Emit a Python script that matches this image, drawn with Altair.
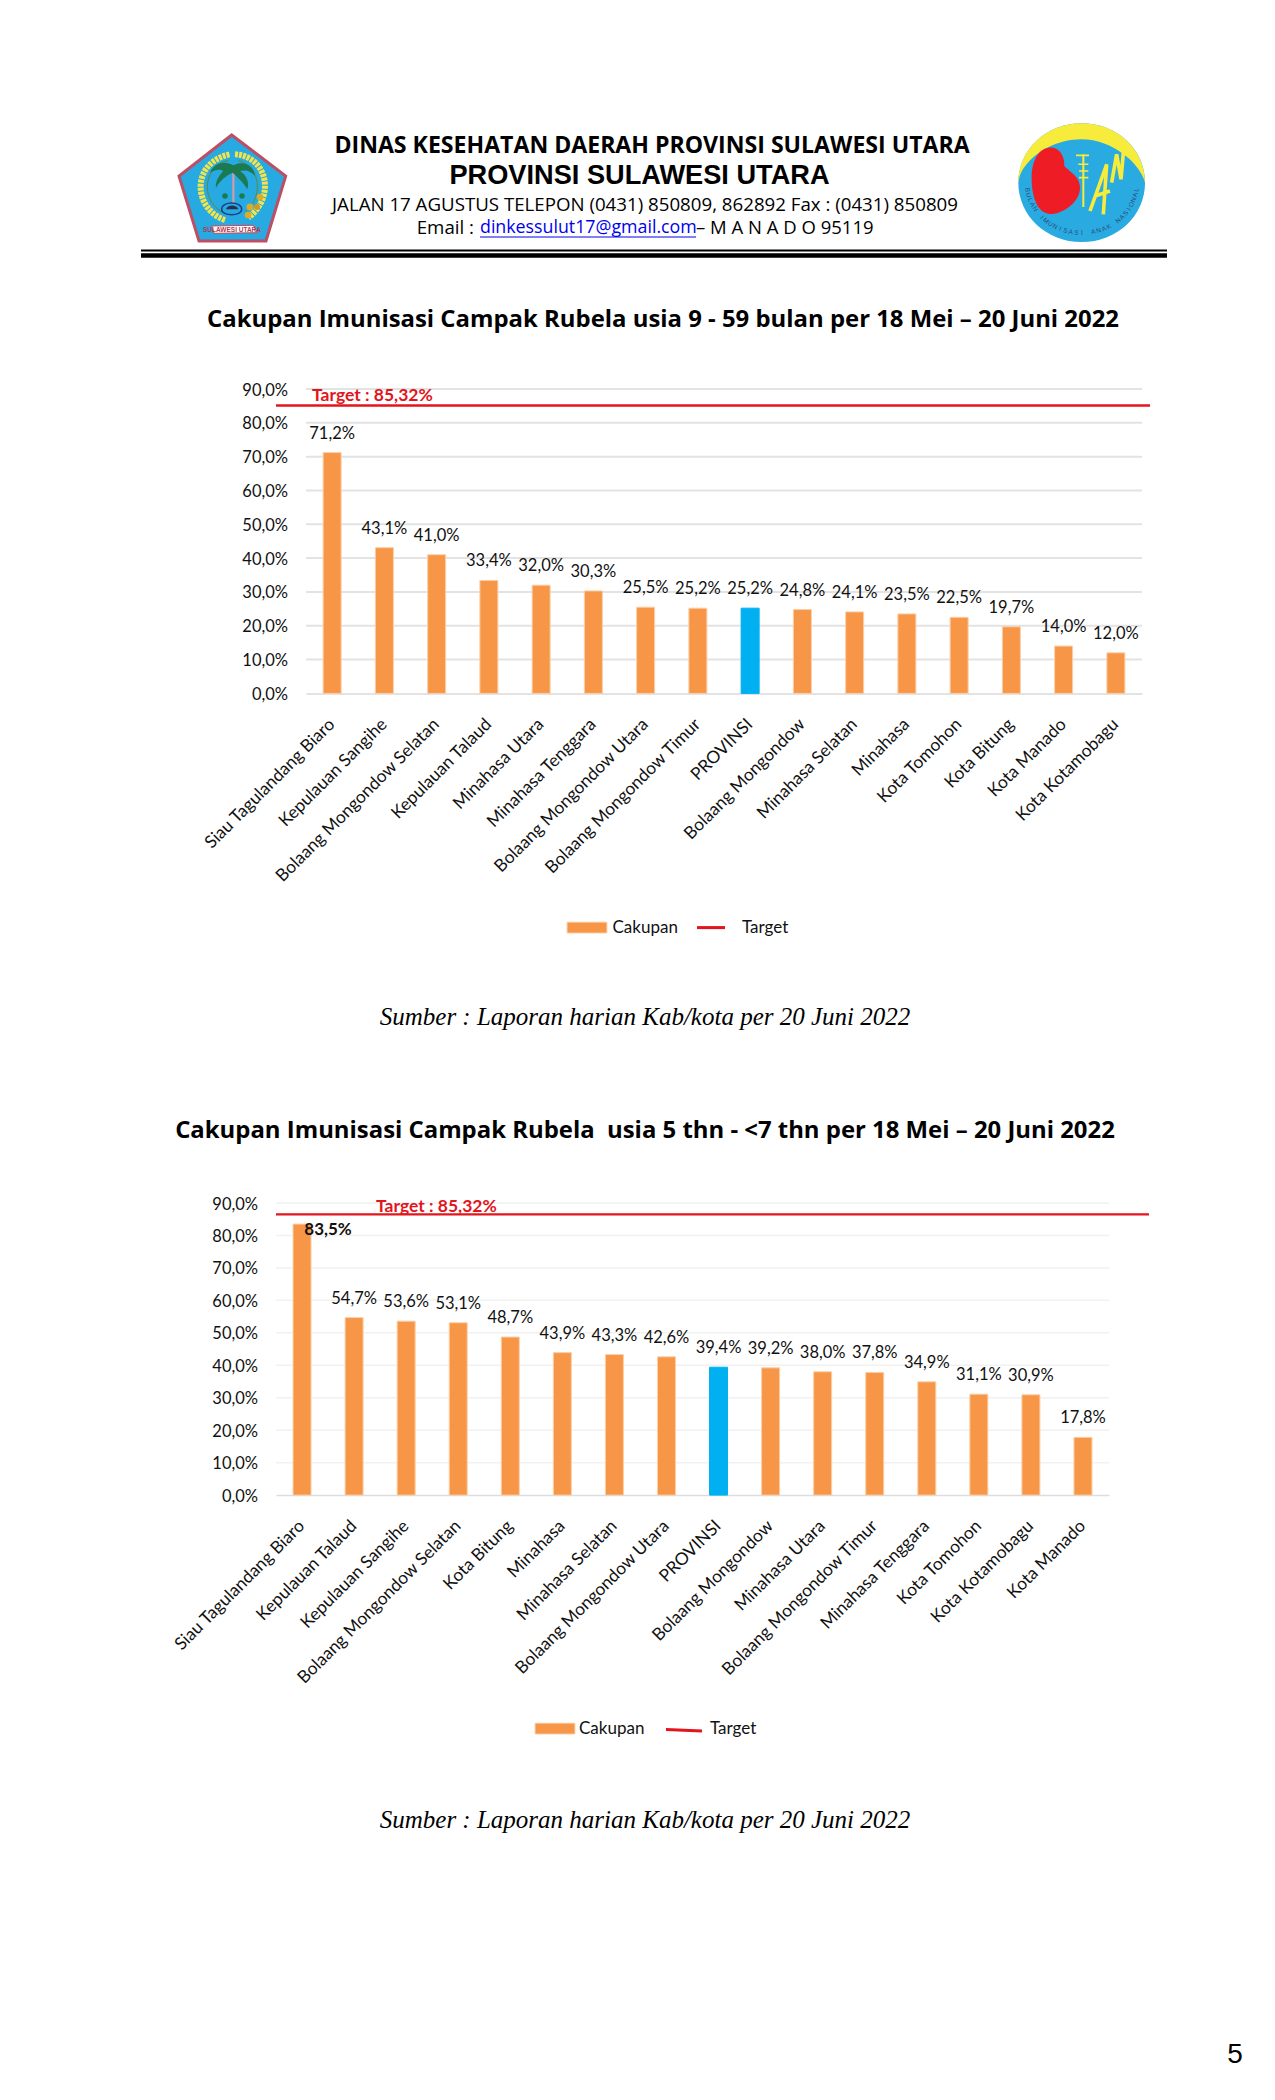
import re, math
import altair as alt
import pandas as pd

# ---------- data ----------
kab1 = ["Siau Tagulandang Biaro", "Kepulauan Sangihe", "Bolaang Mongondow Selatan", "Kepulauan Talaud",
        "Minahasa Utara", "Minahasa Tenggara", "Bolaang Mongondow Utara", "Bolaang Mongondow Timur",
        "PROVINSI", "Bolaang Mongondow", "Minahasa Selatan", "Minahasa", "Kota Tomohon", "Kota Bitung",
        "Kota Manado", "Kota Kotamobagu"]
val1 = [71.2, 43.1, 41.0, 33.4, 32.0, 30.3, 25.5, 25.2, 25.2, 24.8, 24.1, 23.5, 22.5, 19.7, 14.0, 12.0]
kab2 = ["Siau Tagulandang Biaro", "Kepulauan Talaud", "Kepulauan Sangihe", "Bolaang Mongondow Selatan",
        "Kota Bitung", "Minahasa", "Minahasa Selatan", "Bolaang Mongondow Utara", "PROVINSI",
        "Bolaang Mongondow", "Minahasa Utara", "Bolaang Mongondow Timur", "Minahasa Tenggara",
        "Kota Tomohon", "Kota Kotamobagu", "Kota Manado"]
val2 = [83.5, 54.7, 53.6, 53.1, 48.7, 43.9, 43.3, 42.6, 39.4, 39.2, 38.0, 37.8, 34.9, 31.1, 30.9, 17.8]
target1 = 85.1   # where the line sits in the picture; its label says 85,32%
target2 = 86.5   # drawn above its stated value in the reference
ticks = [0, 10, 20, 30, 40, 50, 60, 70, 80, 90]
series = ["Cakupan", "Target"]

title1 = "Cakupan Imunisasi Campak Rubela usia 9 - 59 bulan per 18 Mei – 20 Juni 2022"
title2 = "Cakupan Imunisasi Campak Rubela\u00a0 usia 5 thn - <7 thn per 18 Mei – 20 Juni 2022"
source = "Sumber : Laporan harian Kab/kota per 20 Juni 2022"
target_text = "Target : 85,32%"
head1 = "DINAS KESEHATAN DAERAH PROVINSI SULAWESI UTARA"
head2 = "PROVINSI SULAWESI UTARA"
head3 = "JALAN 17 AGUSTUS TELEPON (0431) 850809, 862892 Fax : (0431) 850809"
head4a = "Email :"
head4b = "dinkessulut17@gmail.com"
head4c = "– M A N A D O 95119"

# ---------- layout ----------
W = 1259
ORANGE, BLUE, RED = "#F79646", "#00B0F0", "#E2141C"
LABEL = "Lato"
HEAD = "Open Sans"
Y1T, Y10 = 388.9, 693.3
Y2T, Y20 = 1201.9, 1494.0
one = pd.DataFrame({"k": [0]})


def text(s, x, y, oy, font=HEAD, size=16, align="left", **kw):
    return alt.Chart(one).mark_text(text=s, font=font, fontSize=size, align=align, baseline="middle", **kw).encode(
        x=alt.value(x - 8), y=alt.value(y - oy))


def hrule(x1, x2, y, oy, color, w, y2=None):
    enc = dict(x=alt.value(x1 - 8), x2=alt.value(x2 - 8), y=alt.value(y - oy))
    if y2 is not None:
        enc["y2"] = alt.value(y2 - oy)
    return alt.Chart(one).mark_rule(color=color, strokeWidth=w).encode(**enc)


def swatch(x1, x2, y1, y2, oy, color):
    return alt.Chart(one).mark_rect(color=color, stroke="#FBD9BC", strokeWidth=1).encode(
        x=alt.value(x1 - 8), x2=alt.value(x2 - 8), y=alt.value(y1 - oy), y2=alt.value(y2 - oy))


def norm(path, ox, oy, cx, cy, half):
    toks = re.findall(r"[MLCZ]|-?\d+\.?\d*", path)
    out, i = [], 0
    for t in toks:
        if t in "MLCZ":
            out.append(t)
        else:
            v = float(t) / 3
            v = (v + ox - cx) / half if i % 2 == 0 else (v + oy - cy) / half
            out.append(f"{v:.3f}")
            i += 1
    return " ".join(out)


def glyph(path, org, center, half, fill=None, stroke=None, sw=1.0, dash=None, oy=8):
    opts = dict(shape=norm(path, org[0], org[1], center[0], center[1], half), size=(2 * half) ** 2, opacity=1)
    if fill:
        opts.update(fill=fill, filled=True)
    else:
        opts.update(filled=False, fillOpacity=0)
    if stroke:
        opts.update(stroke=stroke, strokeWidth=sw)
    else:
        opts.update(strokeWidth=0)
    if dash:
        opts.update(strokeDash=dash)
    return alt.Chart(one).mark_point(**opts).encode(x=alt.value(center[0] - 8), y=alt.value(center[1] - oy))


def dot(x, y, size, color):
    return alt.Chart(one).mark_point(shape="circle", filled=True, size=size, color=color, opacity=1, strokeWidth=0).encode(
        x=alt.value(x - 8), y=alt.value(y - 8))


# ---------- header: left emblem ----------
LO, LC, LH = (170, 126), (232, 187), 62
left = [
    glyph("M185,27 L347,150 L288,345 L87,345 L27,150 Z", LO, LC, LH, fill="#27A9E1", stroke="#BC4F63", sw=3),
    glyph("M165,282 C70,250 60,110 180,85", LO, LC, LH, stroke="#F4E44C", sw=6, dash=[3, 1]),
    glyph("M195,85 C290,90 320,210 235,275", LO, LC, LH, stroke="#F4E44C", sw=6, dash=[3, 1]),
    glyph("M165,262 C95,235 90,125 175,103", LO, LC, LH, stroke="#5E8A3A", sw=1),
    glyph("M205,103 C275,125 280,215 225,258", LO, LC, LH, stroke="#5E8A3A", sw=1),
    glyph("M190,130 L190,232", LO, LC, LH, stroke="#D59AA4", sw=2.2),
    glyph("M190,118 C160,100 130,115 120,140 C140,128 150,130 160,135 C145,150 135,170 138,185 C150,165 165,150 188,140 "
          "C205,155 225,175 232,190 C240,165 225,145 210,135 C225,130 245,135 255,150 C255,125 225,100 190,118 Z",
          LO, LC, LH, fill="#1C7A50"),
    glyph("M155,250 C155,225 215,225 215,250 C215,272 155,272 155,250 Z", LO, LC, LH, stroke="#1F3F8A", sw=1.5),
    glyph("M168,250 C172,235 200,235 205,250 Z", LO, LC, LH, fill="#27304F"),
    dot(170 + 55, 125 + 71, 30, "#1C7A50"), dot(170 + 72, 125 + 71, 30, "#1C7A50"),
    dot(170 + 80, 125 + 82, 50, "#D8AD2C"), dot(170 + 90, 125 + 72, 45, "#D8AD2C"), dot(170 + 78, 125 + 90, 45, "#D8AD2C"),
    dot(170 + 87, 125 + 82, 35, "#C99A26"),
    glyph("M125,300 L250,298 L262,320 L132,322 Z", LO, LC, LH, fill="#FFFFFF", stroke="#C9465A", sw=1),
    text("SULAWESI UTARA", 232, 229.5, 8, font="Liberation Sans", size=6.5, align="center", color="#B83A4E", fontWeight="bold"),
]

# ---------- header: right emblem ----------
RO, RC, RH = (1015, 121), (1082, 183), 66
arc_text = "BULAN IMUNISASI ANAK NASIONAL"
arc_rows = []
for i, ch in enumerate(arc_text):
    t = 82 - 164 * i / (len(arc_text) - 1)
    arc_rows.append({"c": ch, "px": RC[0] - 8 - 55 * math.sin(math.radians(t)),
                     "py": RC[1] - 8 + 50 * math.cos(math.radians(t)), "a": t % 360})
right = [
    glyph("M10,185 C10,85 95,7 200,7 C305,7 390,85 390,185 C390,285 305,363 200,363 C95,363 10,285 10,185 Z",
          RO, RC, RH, fill="#29ABE2"),
    glyph("M10,185 C10,85 95,7 200,7 C305,7 390,85 390,185 C375,125 290,55 200,55 C110,55 35,110 14,165 Z",
          RO, RC, RH, fill="#F7EC3B"),
    glyph("M100,80 C135,75 150,110 148,135 C160,150 195,165 195,200 C195,250 130,285 100,278 C60,270 50,215 50,170 C50,120 70,85 100,80 Z",
          RO, RC, RH, fill="#EE1C25"),
    glyph("M205,100 L205,258", RO, RC, RH, stroke="#F7EC3B", sw=2),
    glyph("M183,103 L222,103 M190,130 L220,130 M192,150 L220,150 M192,170 L220,170", RO, RC, RH, stroke="#F7EC3B", sw=1.6),
    glyph("M225,270 L275,130 L265,280 M240,225 L285,210", RO, RC, RH, stroke="#F7EC3B", sw=3.6),
    glyph("M290,185 L305,100 L318,175 L326,85", RO, RC, RH, stroke="#F7EC3B", sw=3.6),
    alt.Chart(pd.DataFrame(arc_rows)).mark_text(font="Liberation Sans", fontSize=6.5, color="#2B4C7E", baseline="middle").encode(
        x=alt.X("px:Q", scale=None, axis=None), y=alt.Y("py:Q", scale=None, axis=None), text="c:N",
        angle=alt.Angle("a:Q", scale=None)),
]

# ---------- header panel ----------
panel_a = alt.layer(
    *left, *right,
    text(head1, 652, 146, 8, size=23.1, align="center", fontWeight="bold"),
    text(head2, 639.5, 176, 8, font="Liberation Sans", size=27.2, align="center", fontWeight="bold"),
    text(head3, 645, 205, 8, size=18.7, align="center"),
    text(head4a, 474, 228, 8, size=18.7, align="right"),
    text(head4b, 480, 228, 8, size=17.8, color="#0000EE"),
    hrule(480, 696, 237, 8, "#0000EE", 1),
    text(head4c, 696, 228, 8, size=18.5),
    hrule(141, 1167, 250.5, 8, "#000000", 1.8),
    hrule(141, 1167, 255.5, 8, "#000000", 4.5),
    text(title1, 663, 320, 8, size=23.9, align="center", fontWeight="bold"),
).properties(width=W, height=Y1T - 8)


# ---------- chart panels ----------
def pct(v):
    return f"{v:.1f}".replace(".", ",") + "%"


def chart(kab, val, target, x0, x1, oy, y0, barw, gridcol, gridw, basecol, basew, line_x2, target_x, target_y,
          key_parts, bold_first):
    h = y0 - oy
    df = pd.DataFrame({"kab": kab, "val": val, "lab": [pct(v) for v in val]})
    xs = alt.Scale(type="band", domain=kab, range=[x0 - 8, x1 - 8], paddingInner=0, paddingOuter=0)
    ys = alt.Scale(domain=[0, 90], range=[h, 0], nice=False)
    xaxis = alt.Axis(labelAngle=-45, labelAlign="right", labelBaseline="middle", labelPadding=28, ticks=False,
                     labelFont=LABEL, labelFontSize=17.4, labelColor="#111111", labelOverlap=False, labelLimit=400,
                     domainColor=basecol, domainWidth=basew, grid=False)
    yaxis = alt.Axis(values=ticks, offset=-(x0 - 8), labelPadding=18.5, labelOffset=1, ticks=False, domain=False, grid=False,
                     labelFont=LABEL, labelFontSize=16.5, labelColor="#111111",
                     labelExpr="replace(format(datum.value,'.1f'),'.',',')+'%'")
    xe = alt.X("kab:N", sort=None, scale=xs, title=None, axis=xaxis)
    ye = alt.Y("val:Q", scale=ys, title=None, axis=yaxis)
    grid = alt.Chart(pd.DataFrame({"t": ticks[1:]})).mark_rule(color=gridcol, strokeWidth=gridw).encode(
        y=alt.Y("t:Q", scale=ys, title=None, axis=yaxis), x=alt.value(x0 - 8), x2=alt.value(x1 - 8))
    bars = alt.Chart(df).mark_bar(size=barw, strokeWidth=1).encode(
        x=xe, y=ye,
        color=alt.condition(alt.datum.kab == "PROVINSI", alt.value(BLUE), alt.value(ORANGE)),
        stroke=alt.condition(alt.datum.kab == "PROVINSI", alt.value(BLUE), alt.value("#FBCFA8")),
    )
    normal = df.iloc[1:] if bold_first else df
    labels = alt.Chart(normal).mark_text(font=LABEL, fontSize=16.5, dy=-19, baseline="middle", color="#111111").encode(
        x=xe, y=ye, text="lab:N")
    layers = [grid, bars, labels]
    if bold_first:
        layers.append(alt.Chart(df.iloc[:1]).mark_text(font=LABEL, fontSize=17, fontWeight="bold", dx=26, dy=6,
                                                        baseline="middle", color="#111111").encode(x=xe, y=ye, text="lab:N"))
    tline = alt.Chart(pd.DataFrame({"t": [target]})).mark_rule(color=RED, strokeWidth=2.4).encode(
        y=alt.Y("t:Q", scale=ys, title=None, axis=yaxis), x=alt.value(276 - 8), x2=alt.value(line_x2 - 8))
    tlabel = text(target_text, target_x, target_y, oy, font=LABEL, size=17.5, color=RED, fontWeight="bold")
    return alt.layer(*layers, tline, tlabel, *key_parts).properties(width=W, height=h)


key1 = [
    swatch(567, 607, 922, 933, Y1T, ORANGE),
    text(series[0], 612.5, 927.5, Y1T, font=LABEL, size=17, color="#111111"),
    hrule(697, 725, 927.5, Y1T, RED, 3),
    text(series[1], 742, 927.5, Y1T, font=LABEL, size=17, color="#111111"),
]
key2 = [
    swatch(535, 575, 1722, 1733, Y2T, ORANGE),
    text(series[0], 579, 1727.6, Y2T, font=LABEL, size=17, color="#111111"),
    hrule(666, 702, 1728.3, Y2T, RED, 3, y2=1729.8),
    text(series[1], 710, 1727.6, Y2T, font=LABEL, size=17, color="#111111"),
]
panel_b = chart(kab1, val1, target1, 306, 1142, Y1T, Y10, 18, "#E3E3E3", 2, "#E3E3E3", 2, 1150, 312, 396, key1, False)
panel_d = chart(kab2, val2, target2, 276, 1109, Y2T, Y20, 18, "#F1F1F1", 1.5, "#DDDDDD", 1.5, 1149, 376, 1206, key2, True)

# ---------- captions between and below the charts ----------
panel_c = alt.layer(
    text(source, 645, 1016, Y10, font="Liberation Serif", size=25, align="center", fontStyle="italic"),
    text(title2, 645, 1130, Y10, size=23.9, align="center", fontWeight="bold"),
    text(source, 645, 1819, Y10, font="Liberation Serif", size=25, align="center", fontStyle="italic"),
    text("5", 1235, 2054, Y10, font="Liberation Sans", size=28, align="center"),
).properties(width=W, height=Y2T - Y10)

chart_all = alt.vconcat(panel_a, panel_b, panel_c, panel_d, spacing=0, bounds="flush", padding=0).configure_view(stroke=None)
chart_all.save("out.html", embed_options={"renderer": "svg", "actions": False})
